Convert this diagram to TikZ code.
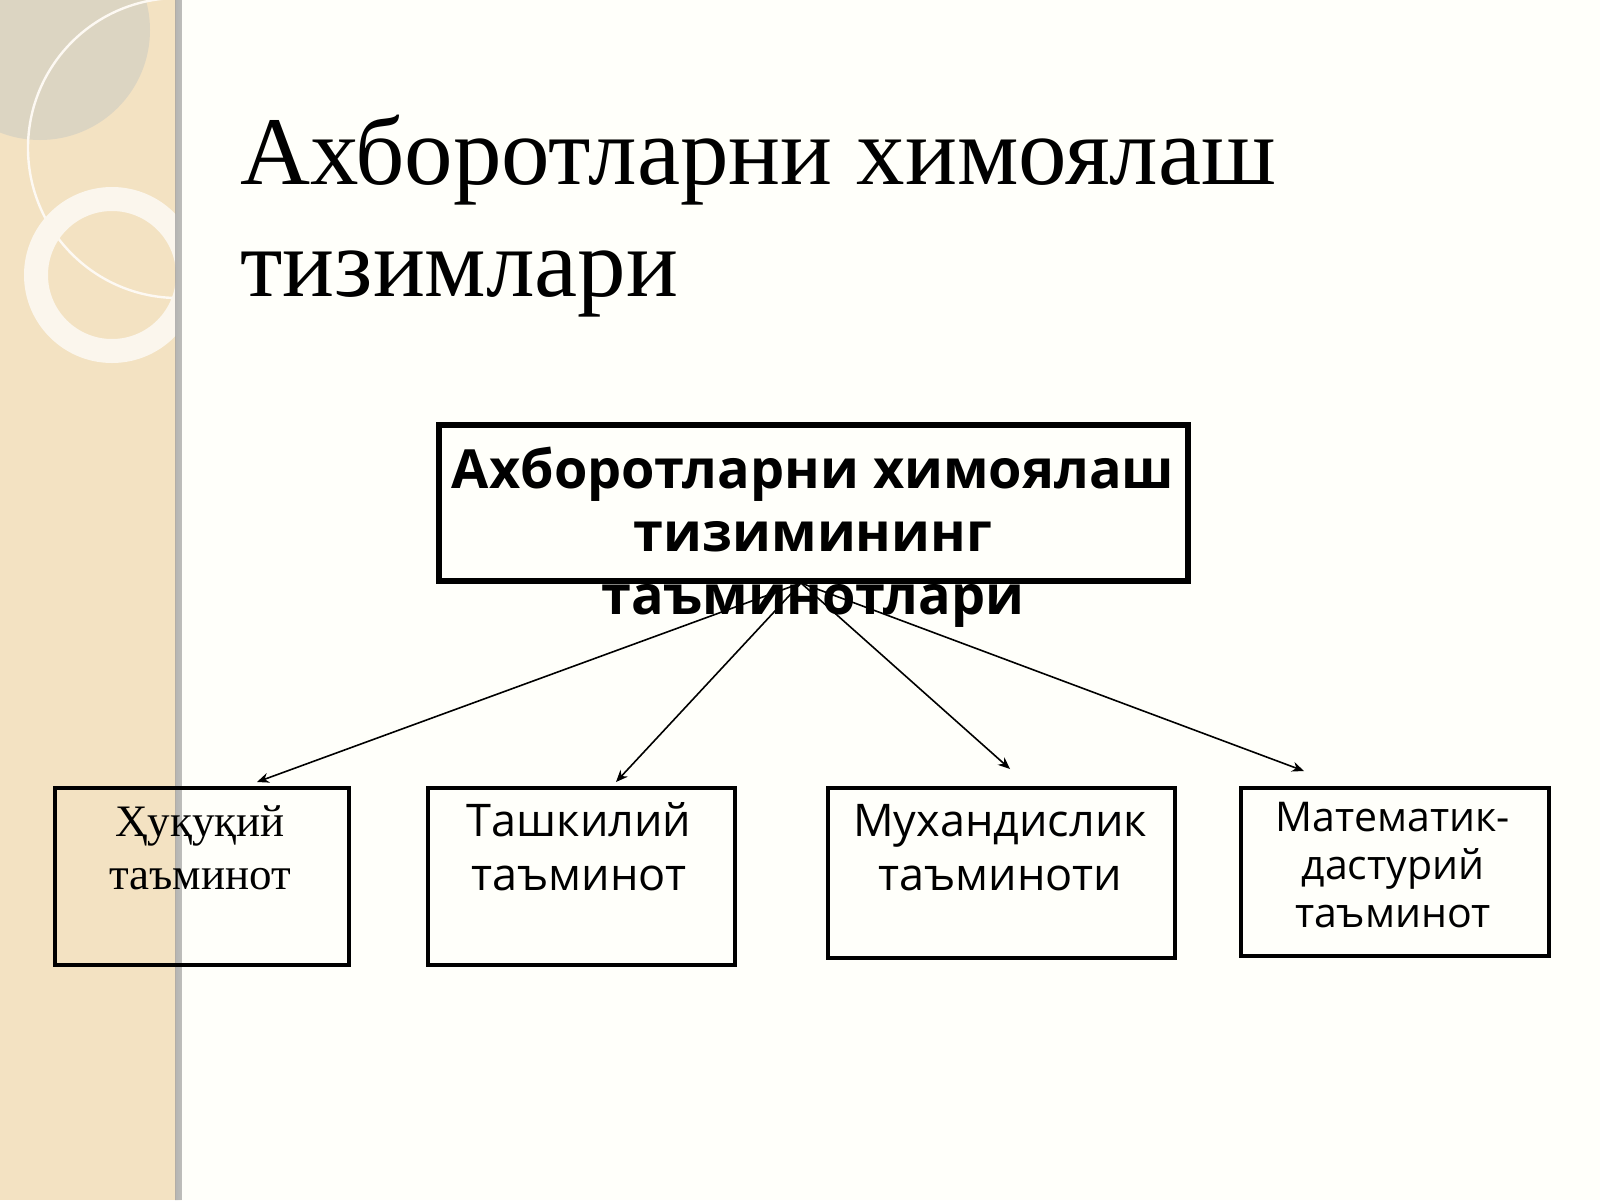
\documentclass[tikz,border=0pt]{standalone}
\usepackage{fontspec}
\setmainfont{Liberation Serif}
\newfontfamily\osans{Open Sans}
\usetikzlibrary{arrows.meta}
\definecolor{strip}{HTML}{F3E2C2}
\definecolor{blob}{HTML}{DCD5C2}
\tikzset{
  box/.style={draw=black,line width=2pt,anchor=north west,inner sep=0pt},
  ln/.style={anchor=base,inner sep=0pt},
  sa/.style={ln,font=\osans\fontsize{22.5}{27}\selectfont},
  sb/.style={ln,font=\osans\fontsize{20.5}{24}\selectfont},
  sr/.style={ln,font=\fontsize{22.5}{27}\selectfont},
  tb/.style={ln,font=\osans\bfseries\fontsize{27}{31.5}\selectfont},
  tt/.style={anchor=base west,inner sep=0pt,font=\fontsize{48.5}{55}\selectfont},
  arr/.style={-{Stealth[length=6pt,width=5pt]},line width=0.8pt}}
\begin{document}
\begin{tikzpicture}[x=0.5pt,y=-0.5pt]
\useasboundingbox (0,0) rectangle (1600,1200);
\fill[white!98!yellow] (0,0) rectangle (1600,1200);
\begin{scope}
\clip (0,0) rectangle (176,1200);
\fill[strip] (0,0) rectangle (176,1200);
\fill[blob] (40,30) circle (110);
\draw[white!80!strip,line width=1.2pt] (178,148) circle (150);
\draw[white!70!strip,line width=12pt] (112,275) circle (76);
\end{scope}
\fill[left color=black!8,right color=white!98!yellow,opacity=0.5] (175,0) rectangle (182,1200);
\node[tt] (title) at (240,184) {Ахборотларни химоялаш};
\node[tt] (title2) at (240,296) {тизимлари};
\node[draw=black,line width=3.2pt,minimum width=374.5pt,minimum height=78pt] (top) at (813.5,503) {};
\node[tb] (t1) at (813,488) {Ахборотларни химоялаш};
\node[tb] (t2) at (813,551) {тизимининг};
\node[tb] (t3) at (813,614) {таъминотлари};
\coordinate (o) at (801,583);
\node[box,minimum width=147pt,minimum height=88.5pt] (b1) at (53,786) {};
\node[sr] (l11) at (200,836) {Ҳуқуқий};
\node[sr] (l12) at (200,889) {таъминот};
\node[box,minimum width=153.5pt,minimum height=88.5pt] (b2) at (426,786) {};
\node[sa] (l21) at (579,836) {Ташкилий};
\node[sa] (l22) at (579,890) {таъминот};
\node[box,minimum width=173.5pt,minimum height=85pt] (b3) at (826,786) {};
\node[sa] (l31) at (1000,836) {Мухандислик};
\node[sa] (l32) at (1000,890) {таъминоти};
\node[box,minimum width=154pt,minimum height=84pt] (b4) at (1239,786) {};
\node[sb] (l41) at (1393,831) {Математик-};
\node[sb] (l42) at (1393,879) {дастурий};
\node[sb] (l43) at (1393,927) {таъминот};
\coordinate (e1) at (257,782);
\coordinate (e2) at (616,782);
\coordinate (e3) at (1010,769);
\coordinate (e4) at (1304,771);
\draw[arr] (o) -- (e1);
\draw[arr] (o) -- (e2);
\draw[arr] (o) -- (e3);
\draw[arr] (o) -- (e4);
\end{tikzpicture}
\end{document}
